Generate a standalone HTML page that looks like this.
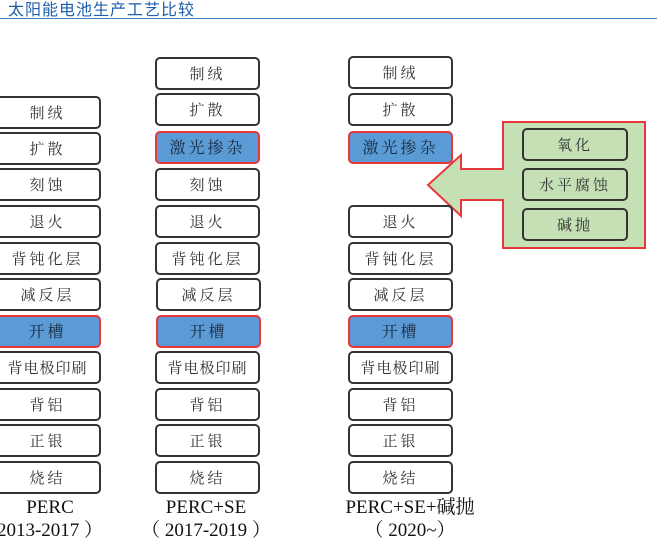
<!DOCTYPE html>
<html><head><meta charset="utf-8"><style>
body{margin:0;width:657px;height:544px;background:#fff;position:relative;overflow:hidden;font-family:"Liberation Serif","Noto Serif CJK SC",serif}
.t{position:absolute;left:8px;top:-4px;font-family:"Liberation Sans","Noto Sans CJK SC",sans-serif;font-size:16px;color:#1f5fae;letter-spacing:1px}
.hl{position:absolute;left:0;top:18px;width:657px;height:1px;background:#3b7fc6}
.b{position:absolute;height:29px;border:2px solid #333;border-radius:5px;background:#fff;box-sizing:content-box;text-align:center;line-height:32px;font-size:15px;color:#333;letter-spacing:3px}
.s{letter-spacing:1px}
.bl{background:#5b9bd5;border-color:#e8373a;color:#1a2a40;font-size:16px}
.g{background:#c5e0b4;border-color:#333}
.lab{position:absolute;text-align:center;font-size:19px;color:#111;line-height:22px}
</style></head><body>
<div class="t">太阳能电池生产工艺比较</div><div class="hl"></div>

<svg style="position:absolute;left:0;top:0" width="657" height="544">
<polygon points="503,122 645,122 645,248 503,248 503,200 461,200 461,216 428,185 461,155 461,169 503,169" fill="#c5e0b4" stroke="#e8373a" stroke-width="2"/>
</svg>
<div class="b g" style="left:522px;top:128px;width:102px">氧化</div>
<div class="b g" style="left:522px;top:168px;width:102px">水平腐蚀</div>
<div class="b g" style="left:522px;top:208px;width:102px">碱抛</div>

<div class="b" style="left:-6px;top:96px;width:103px">制绒</div>
<div class="b" style="left:-6px;top:132px;width:103px">扩散</div>
<div class="b" style="left:-6px;top:168px;width:103px">刻蚀</div>
<div class="b" style="left:-6px;top:205px;width:103px">退火</div>
<div class="b" style="left:-6px;top:242px;width:103px">背钝化层</div>
<div class="b" style="left:-6px;top:278px;width:103px">减反层</div>
<div class="b bl" style="left:-6px;top:315px;width:103px">开槽</div>
<div class="b s" style="left:-6px;top:351px;width:103px">背电极印刷</div>
<div class="b" style="left:-6px;top:388px;width:103px">背铝</div>
<div class="b" style="left:-6px;top:424px;width:103px">正银</div>
<div class="b" style="left:-6px;top:461px;width:103px">烧结</div>

<div class="b" style="left:155px;top:57px;width:101px">制绒</div>
<div class="b" style="left:155px;top:93px;width:101px">扩散</div>
<div class="b bl" style="left:155px;top:131px;width:101px">激光掺杂</div>
<div class="b" style="left:155px;top:168px;width:101px">刻蚀</div>
<div class="b" style="left:155px;top:205px;width:101px">退火</div>
<div class="b" style="left:155px;top:242px;width:101px">背钝化层</div>
<div class="b" style="left:156px;top:278px;width:101px">减反层</div>
<div class="b bl" style="left:156px;top:315px;width:101px">开槽</div>
<div class="b s" style="left:155px;top:351px;width:101px">背电极印刷</div>
<div class="b" style="left:155px;top:388px;width:101px">背铝</div>
<div class="b" style="left:155px;top:424px;width:101px">正银</div>
<div class="b" style="left:155px;top:461px;width:101px">烧结</div>

<div class="b" style="left:348px;top:56px;width:101px">制绒</div>
<div class="b" style="left:348px;top:93px;width:101px">扩散</div>
<div class="b bl" style="left:348px;top:131px;width:101px">激光掺杂</div>
<div class="b" style="left:348px;top:205px;width:101px">退火</div>
<div class="b" style="left:348px;top:242px;width:101px">背钝化层</div>
<div class="b" style="left:348px;top:278px;width:101px">减反层</div>
<div class="b bl" style="left:348px;top:315px;width:101px">开槽</div>
<div class="b s" style="left:348px;top:351px;width:101px">背电极印刷</div>
<div class="b" style="left:348px;top:388px;width:101px">背铝</div>
<div class="b" style="left:348px;top:424px;width:101px">正银</div>
<div class="b" style="left:348px;top:461px;width:101px">烧结</div>

<div class="lab" style="left:0;top:497px;width:100px">PERC</div>
<div class="lab" style="left:-10px;top:520px;width:120px">2013-2017 ）</div>
<div class="lab" style="left:136px;top:497px;width:140px">PERC+SE</div>
<div class="lab" style="left:136px;top:520px;width:140px">（ 2017-2019 ）</div>
<div class="lab" style="left:330px;top:497px;width:160px">PERC+SE+碱抛</div>
<div class="lab" style="left:330px;top:520px;width:160px">（ 2020~）</div>
</body></html>
